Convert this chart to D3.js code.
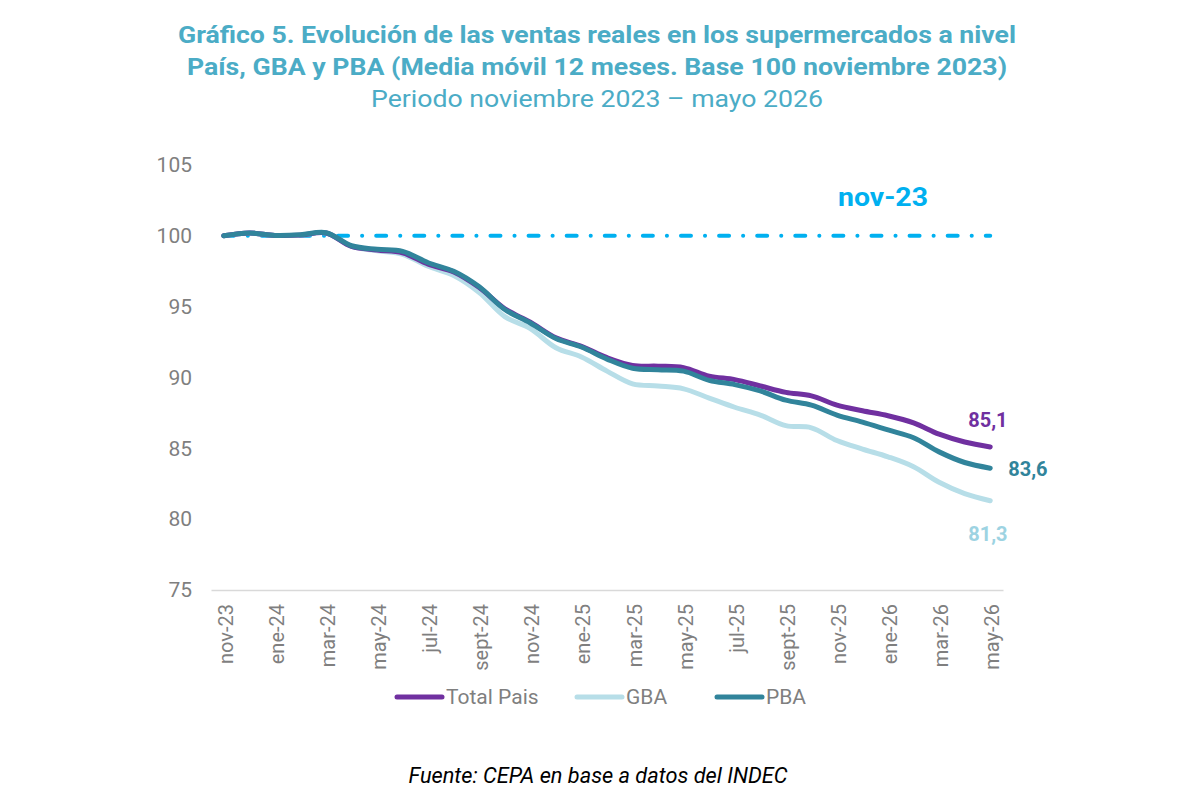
<!DOCTYPE html>
<html>
<head>
<meta charset="utf-8">
<script src="https://cdn.jsdelivr.net/npm/d3@7"></script>
<style>
  body { margin: 0; background: #fff; }
  svg { display: block; }
</style>
</head>
<body>
<svg id="chart" width="1199" height="812"></svg>
<script>
const months = ["nov-23","dic-23","ene-24","feb-24","mar-24","abr-24","may-24","jun-24","jul-24","ago-24","sept-24","oct-24",
  "nov-24","dic-24","ene-25","feb-25","mar-25","abr-25","may-25","jun-25","jul-25","ago-25","sept-25","oct-25",
  "nov-25","dic-25","ene-26","feb-26","mar-26","abr-26","may-26"];
const tickLabels = ["nov-23","ene-24","mar-24","may-24","jul-24","sept-24","nov-24","ene-25","mar-25","may-25","jul-25","sept-25","nov-25","ene-26","mar-26","may-26"];
const totalPais = [100,100.2,100.03,100.05,100.2,99.25,99.0,98.8,98.0,97.45,96.35,94.85,93.9,92.8,92.2,91.4,90.85,90.8,90.7,90.1,89.85,89.4,88.95,88.7,88.05,87.65,87.3,86.8,86.0,85.45,85.1];
const gba = [100,100.2,100.03,100.05,100.2,99.25,98.95,98.7,97.85,97.2,96.0,94.3,93.45,92.1,91.45,90.45,89.55,89.4,89.2,88.55,87.9,87.35,86.6,86.45,85.55,84.95,84.4,83.7,82.6,81.8,81.3];
const pba = [100,100.2,100.03,100.07,100.22,99.3,99.05,98.9,98.1,97.5,96.4,94.8,93.85,92.75,92.15,91.3,90.65,90.55,90.45,89.8,89.5,89.05,88.4,88.05,87.35,86.85,86.3,85.75,84.75,84.0,83.6];
const baseValue = 100;
const yTicks = [75,80,85,90,95,100,105];
const endLabels = ["85,1","81,3","83,6"];

const svg = d3.select("#chart");
const x = d3.scaleBand().domain(months).range([211, 1003]);
const xc = m => x(m) + x.bandwidth() / 2;
const y = d3.scaleLinear().domain([75, 105]).range([590, 165]);

// Title
const titleColor = "#4BACC6";
svg.append("text").attr("x", 597).attr("y", 43).attr("text-anchor", "middle")
  .attr("font-family", "Roboto").attr("font-weight", "bold").attr("font-size", 24)
  .attr("fill", titleColor).attr("textLength", 838).attr("lengthAdjust", "spacingAndGlyphs")
  .text("Gráfico 5. Evolución de las ventas reales en los supermercados a nivel");
svg.append("text").attr("x", 597).attr("y", 75).attr("text-anchor", "middle")
  .attr("font-family", "Roboto").attr("font-weight", "bold").attr("font-size", 24)
  .attr("fill", titleColor).attr("textLength", 820).attr("lengthAdjust", "spacingAndGlyphs")
  .text("País, GBA y PBA (Media móvil 12 meses. Base 100 noviembre 2023)");
svg.append("text").attr("x", 597).attr("y", 107).attr("text-anchor", "middle")
  .attr("font-family", "Roboto").attr("font-size", 24)
  .attr("fill", titleColor).attr("textLength", 452).attr("lengthAdjust", "spacingAndGlyphs")
  .text("Periodo noviembre 2023 – mayo 2026");

// Y axis
const yAxis = svg.append("g").attr("transform", "translate(192,0)")
  .call(d3.axisLeft(y).tickValues(yTicks).tickSize(0).tickPadding(0));
yAxis.select(".domain").remove();
yAxis.selectAll("text").attr("font-family", "Roboto").attr("font-size", 21).attr("fill", "#7f7f7f");

// X axis
const xAxis = svg.append("g").attr("transform", "translate(0,590)")
  .call(d3.axisBottom(x).tickValues(tickLabels).tickSize(0).tickPadding(0));
xAxis.select(".domain").attr("stroke", "#d9d9d9").attr("stroke-width", 1.5);
xAxis.selectAll("text")
  .attr("font-family", "Roboto").attr("font-size", 20).attr("fill", "#7f7f7f")
  .attr("text-anchor", "end").attr("transform", "rotate(-90)")
  .attr("x", -14).attr("y", 2).attr("dy", "0.35em");

// Base line
svg.append("line")
  .attr("x1", xc(months[0])).attr("x2", xc(months[months.length - 1]))
  .attr("y1", y(baseValue)).attr("y2", y(baseValue))
  .attr("stroke", "#00B0F0").attr("stroke-width", 4).attr("stroke-linecap", "round")
  .attr("stroke-dasharray", "10,14,0.1,14");
svg.append("text").attr("x", 883).attr("y", 206).attr("text-anchor", "middle")
  .attr("font-family", "Roboto").attr("font-weight", "bold").attr("font-size", 26)
  .attr("fill", "#00B0F0").attr("textLength", 90).attr("lengthAdjust", "spacingAndGlyphs").text("nov-23");

// Lines
const series = [
  { name: "GBA", values: gba, color: "#B7DEE8" },
  { name: "Total Pais", values: totalPais, color: "#7030A0" },
  { name: "PBA", values: pba, color: "#31849B" }
];
const line = d3.line().x((d, i) => xc(months[i])).y(d => y(d)).curve(d3.curveCatmullRom.alpha(0.5));
svg.append("g").selectAll("path").data(series).join("path")
  .attr("d", d => line(d.values)).attr("fill", "none")
  .attr("stroke", d => d.color).attr("stroke-width", 5)
  .attr("stroke-linecap", "round").attr("stroke-linejoin", "round");

// End labels
const lastX = xc(months[months.length - 1]);
svg.append("text").attr("x", lastX - 22).attr("y", 427).attr("font-family", "Roboto").attr("font-weight", "bold")
  .attr("font-size", 20).attr("fill", "#7030A0").text(endLabels[0]);
svg.append("text").attr("x", lastX - 22).attr("y", 541).attr("font-family", "Roboto").attr("font-weight", "bold")
  .attr("font-size", 20).attr("fill", "#9DD3E2").text(endLabels[1]);
svg.append("text").attr("x", lastX + 18).attr("y", 476).attr("font-family", "Roboto").attr("font-weight", "bold")
  .attr("font-size", 20).attr("fill", "#31849B").text(endLabels[2]);

// Legend
const legendItems = [
  { name: "Total Pais", color: "#7030A0", x: 395 },
  { name: "GBA", color: "#B7DEE8", x: 575 },
  { name: "PBA", color: "#31849B", x: 715 }
];
const lg = svg.append("g").selectAll("g").data(legendItems).join("g")
  .attr("transform", d => `translate(${d.x},697)`);
lg.append("line").attr("x1", 2).attr("x2", 47).attr("y1", 0).attr("y2", 0)
  .attr("stroke", d => d.color).attr("stroke-width", 5).attr("stroke-linecap", "round");
lg.append("text").attr("x", 51).attr("y", 0).attr("dy", "0.35em")
  .attr("font-family", "Roboto").attr("font-size", 21)
  .attr("fill", "#7f7f7f").text(d => d.name);

// Footer
svg.append("text").attr("x", 598).attr("y", 783).attr("text-anchor", "middle")
  .attr("font-family", "Roboto").attr("font-style", "italic").attr("font-size", 22)
  .attr("fill", "#000").attr("textLength", 379).attr("lengthAdjust", "spacingAndGlyphs")
  .text("Fuente: CEPA en base a datos del INDEC");
</script>
</body>
</html>
